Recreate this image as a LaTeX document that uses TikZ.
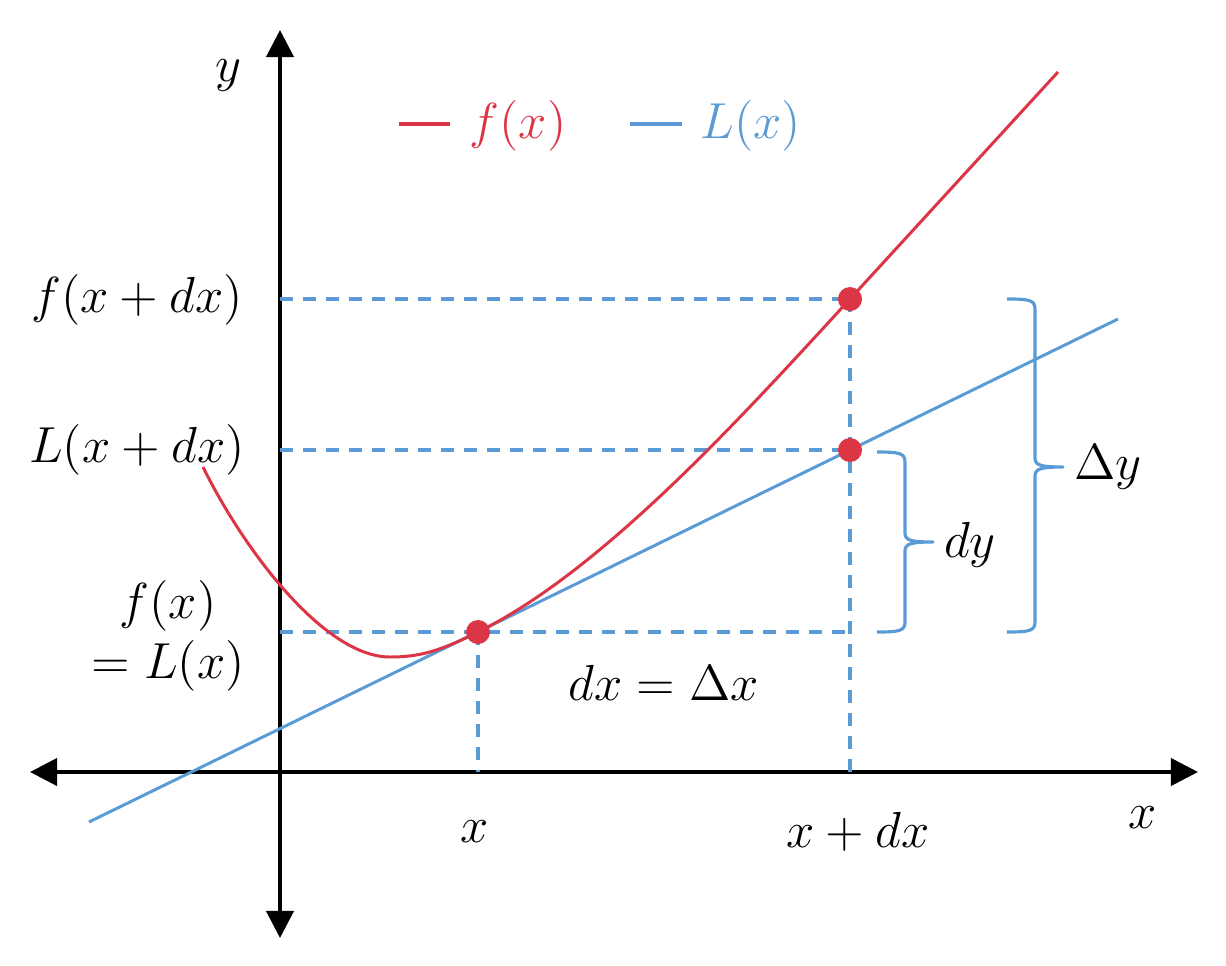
\documentclass[tikz,border=0pt]{standalone}
\usetikzlibrary{arrows.meta}
\definecolor{fred}{RGB}{220,54,70}
\definecolor{lblue}{RGB}{91,155,213}
\begin{document}
\begin{tikzpicture}[x=0.01cm,y=-0.01cm,
  axisline/.style={line width=1.1pt},
  fline/.style={fred,line width=0.85pt},
  lline/.style={lblue,line width=0.85pt},
  guide/.style={lblue,line width=1.0pt,dash pattern=on 0.13cm off 0.10cm},
  brace/.style={lblue,line width=0.9pt,line join=round},
  dot/.style={circle,fill=fred,inner sep=0pt,minimum size=0.24cm},
  lbl/.style={inner sep=1pt,font=\fontsize{15}{19}\selectfont},
]
\useasboundingbox (0,0) rectangle (1226,966);
% axes
\coordinate (xl) at (30,772);
\coordinate (xr) at (1198,772);
\coordinate (yt) at (280,30);
\coordinate (yb) at (280,938);
\draw[axisline,{Triangle[length=0.27cm,width=0.27cm]}-{Triangle[length=0.27cm,width=0.27cm]}] (xl) -- (xr);
\draw[axisline,{Triangle[length=0.27cm,width=0.27cm]}-{Triangle[length=0.27cm,width=0.27cm]}] (yb) -- (yt);
% key points
\coordinate (A) at (478,632);
\coordinate (B) at (850,299);
\coordinate (C) at (850,450);
\coordinate (yA) at (280,632);
\coordinate (yB) at (280,299);
\coordinate (yC) at (280,450);
\coordinate (xA) at (478,772);
\coordinate (xB) at (850,772);
\coordinate (Aend) at (850,632);
% guides
\draw[guide] (yB) -- (B);
\draw[guide] (yC) -- (C);
\draw[guide] (yA) -- (Aend);
\draw[guide] (A) -- (xA);
\draw[guide] (B) -- (xB);
% tangent line
\coordinate (L0) at (89,822);
\coordinate (L1) at (1118,319);
\draw[lline] (L0) -- (L1);
% curve f
\coordinate (F0) at (203,467);
\coordinate (Fmin) at (390,657);
\coordinate (F1) at (1058,72);
\draw[fline] (F0) .. controls (245,552) and (325,657) .. (Fmin)
  .. controls (420,657) and (440,651) .. (A)
  .. controls (602,571) and (740,419) .. (B)
  -- (F1);
% dots
\node[dot] (dA) at (A) {};
\node[dot] (dB) at (B) {};
\node[dot] (dC) at (C) {};
% braces
\draw[brace] (877,452) .. controls (899,452) and (905,453) .. (905,462) -- (905,533)
  .. controls (905,540) and (910,542) .. (933,542)
  .. controls (910,542) and (905,544) .. (905,551) -- (905,622)
  .. controls (905,631) and (899,632) .. (877,632);
\draw[brace] (1007,299) .. controls (1029,299) and (1035,300) .. (1035,309) -- (1035,458)
  .. controls (1035,465) and (1040,467) .. (1063,467)
  .. controls (1040,467) and (1035,469) .. (1035,476) -- (1035,622)
  .. controls (1035,631) and (1029,632) .. (1007,632);
% legend
\coordinate (lf0) at (399,124);
\coordinate (lf1) at (450,124);
\coordinate (ll0) at (630,124);
\coordinate (ll1) at (682,124);
\draw[fred,line width=1.4pt] (lf0) -- (lf1);
\draw[lblue,line width=1.4pt] (ll0) -- (ll1);
\node[lbl,text=fred] (legf) at (518,126) {$f(x)$};
\node[lbl,text=lblue] (legl) at (751,126) {$L(x)$};
% labels
\node[lbl] (ylab) at (228,76) {$y$};
\node[lbl] (xlab) at (1143,818) {$x$};
\node[lbl] (lfxdx) at (137,300) {$f(x+dx)$};
\node[lbl] (llxdx) at (137,450) {$L(x+dx)$};
\node[lbl,align=center] (lfx) at (168,636) {$f(x)$\\[-2pt]$=L(x)$};
\node[lbl] (ldx) at (664,683) {$dx=\Delta x$};
\node[lbl] (lx) at (475,832) {$x$};
\node[lbl] (lxdx) at (858,832) {$x+dx$};
\node[lbl] (ldy) at (970,545) {$dy$};
\node[lbl] (lDy) at (1108,467) {$\Delta y$};
\end{tikzpicture}
\end{document}
